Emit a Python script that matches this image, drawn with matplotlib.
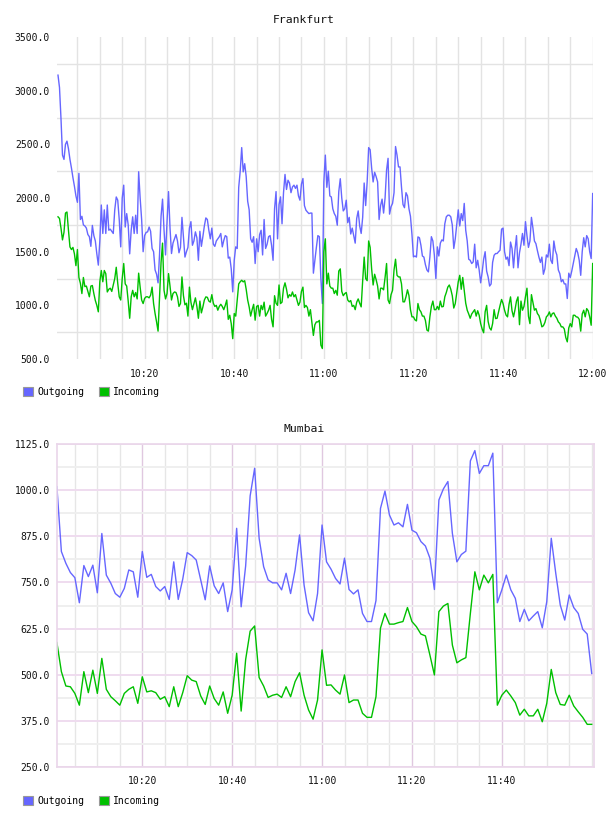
import numpy as np
import pandas as pd
import matplotlib
matplotlib.use("Agg")
import matplotlib.pyplot as plt
import matplotlib.dates as mdates
from matplotlib.ticker import MultipleLocator, FixedLocator, FormatStrFormatter
from matplotlib.patches import Patch

# Frankfurt: one sample every 20 s, starting 10:00:40
fra_start = "2013-05-01 10:00:40"
fra_out = [
    3145, 3030, 2740, 2400, 2360, 2500, 2530, 2460, 2360, 2280,
    2190, 2110, 2020, 1960, 2230, 1800, 1830, 1750, 1740, 1720,
    1660, 1640, 1550, 1745, 1650, 1600, 1480, 1375, 1600, 1935,
    1670, 1890, 1670, 1935, 1700, 1710, 1690, 1670, 1890, 2010,
    1980, 1800, 1545, 2000, 2120, 1730, 1855, 1750, 1480, 1700,
    1825, 1670, 1840, 1670, 2245, 2000, 1800, 1500, 1650, 1680,
    1685,
    1730, 1690, 1530, 1500, 1330, 1290, 1210, 1480, 1830, 1990,
    1700, 1470, 1780, 2060, 1720, 1483, 1580, 1620, 1660, 1600,
    1490, 1540, 1820, 1638, 1450, 1500, 1540, 1720, 1780, 1560,
    1600, 1685, 1630, 1420, 1690, 1550, 1640, 1740, 1815, 1800,
    1700, 1620, 1720, 1570, 1550, 1600, 1620, 1640, 1670, 1545,
    1605, 1650, 1640, 1440, 1450, 1340, 1126, 1420, 1545, 1530,
    2100, 2250, 2470, 2244, 2320, 2200, 1970, 1890, 1620, 1588,
    1640, 1390, 1620, 1500, 1660, 1700, 1470, 1800, 1530, 1570,
    1640, 1650, 1560, 1420, 1900, 2060, 1620, 1940, 2011, 1760,
    2050, 2220, 2080, 2166, 2140, 2050, 2104, 2120, 2090, 2120,
    2020, 1980, 2130, 2182, 1930, 1887, 1870, 1855, 1860, 1860,
    1300, 1420, 1540, 1650, 1640, 1250, 1017, 2150, 2400, 2100,
    2250, 2020, 2010, 1900, 1855, 1830, 1747, 2060, 2180, 2000,
    1880, 1900, 1980, 1770, 1820, 1665, 1720, 1650, 1580, 1810,
    1880, 1740, 1670, 1820, 2140, 1930, 2150, 2470, 2450, 2280,
    2150, 2240, 2200, 2150, 1800, 1930, 1990, 1860, 2000, 2260,
    2370, 1850, 1920, 1950, 2050, 2480, 2400, 2290, 2290, 2100,
    1940, 1910, 2050, 2020, 1900, 1830, 1660, 1452, 1460, 1450,
    1638, 1630, 1560, 1460, 1450, 1380, 1330, 1312, 1450, 1640,
    1600, 1467, 1250, 1545, 1460, 1580, 1610, 1600, 1760, 1825,
    1840, 1840, 1825, 1750, 1530, 1620, 1760, 1890, 1740, 1855,
    1790, 1950, 1700, 1600, 1430, 1420, 1390, 1405, 1570, 1350,
    1420, 1330, 1210, 1310, 1430, 1500, 1320, 1265, 1180, 1200,
    1400, 1467, 1483, 1483, 1500, 1514, 1710, 1720, 1500, 1430,
    1450, 1370, 1590, 1530, 1350, 1520, 1650, 1350, 1490, 1570,
    1670, 1560, 1780, 1650, 1540, 1600, 1820, 1720, 1600, 1575,
    1510, 1450, 1400, 1450, 1290, 1340, 1470, 1450, 1570, 1420,
    1390, 1600, 1510, 1470, 1330, 1296, 1220, 1240, 1200, 1200,
    1064, 1300, 1260, 1320, 1390, 1460, 1530, 1490, 1420, 1280,
    1500, 1630, 1545, 1650, 1620, 1500, 1436, 2042,
]
fra_in = [
    1825, 1810, 1720, 1610, 1680, 1860, 1870, 1700, 1545, 1520,
    1540, 1480, 1370, 1520, 1260, 1205, 1110, 1260, 1175, 1180,
    1130, 1080, 1180, 1185, 1110, 1045, 1000, 940, 1220, 1325,
    1220, 1325, 1295, 1125, 1150, 1160, 1130, 1190, 1250, 1355,
    1205, 1080, 1050, 1250, 1390, 1200, 1180, 1040, 880, 1080,
    1140, 1080, 1120, 1060, 1300, 1170, 1050, 1017, 1065, 1080,
    1080,
    1070, 1095, 1170, 1017, 924, 846, 760, 1080, 1400, 1580,
    1140, 1060, 1110, 1296, 1180, 1050, 1110, 1125, 1120, 1080,
    990, 1017, 1265, 1090, 1005, 1020, 900, 1170, 1030, 960,
    1017, 1070, 990, 880, 1040, 930, 985, 1050, 1079, 1075,
    1040, 1030, 1100, 1020, 990, 1000, 955, 990, 1010, 990,
    960, 1000, 1050, 870, 908, 830, 690, 924, 900, 1050,
    1200, 1220, 1234, 1219, 1230, 1150, 1050, 985, 900, 960,
    1010, 862, 990, 1000, 900, 1000, 960, 1030, 900, 925,
    955, 1000, 870, 800, 1090, 1020, 1000, 1190, 1017, 1030,
    1160, 1210, 1150, 1070, 1100, 1085, 1125, 1080, 1100, 1050,
    1000, 1030, 1130, 1170, 980, 1000, 980, 900, 960, 840,
    720, 820, 846, 846, 860, 630, 598, 1500, 1620, 1200,
    1300, 1180, 1160, 1160, 1110, 1140, 1095, 1320, 1340, 1130,
    1090, 1110, 1120, 1050, 1033, 1045, 990, 1000, 960, 1030,
    1060, 1020, 986, 1230, 1450, 1250, 1230, 1600, 1540, 1340,
    1190, 1290, 1240, 1180, 1060, 1160, 1160, 1145, 1260, 1390,
    1050, 1017, 1100, 1140, 1330, 1430, 1280, 1265, 1265, 1200,
    1033, 1033, 1080, 1145, 1090, 960, 893, 893, 865, 855,
    1017, 960, 940, 900, 900, 860, 770, 760, 893, 990,
    1040, 960, 960, 990, 960, 1040, 986, 990, 1080, 1120,
    1170, 1190, 1150, 1090, 975, 1017, 1120, 1220, 1280, 1150,
    1260, 1140, 1020, 955, 920, 880, 920, 940, 960, 900,
    950, 908, 830, 780, 745, 940, 1000, 850, 790, 770,
    830, 960, 877, 880, 940, 1000, 1055, 1017, 955, 910,
    893, 1010, 1079, 950, 893, 960, 1040, 1079, 820, 1040,
    955, 990, 1080, 1160, 900, 830, 1100, 1030, 955, 970,
    924, 905, 860, 800, 810, 840, 893, 908, 939, 893,
    924, 930, 900, 880, 846, 831, 800, 800, 780, 700,
    660, 790, 830, 800, 908, 908, 893, 890, 870, 760,
    920, 955, 893, 970, 950, 893, 815, 1390,
]
fra_ticks = ["10:20", "10:40", "11:00", "11:20", "11:40", "12:00"]

# Mumbai: one sample per minute, starting 10:01
mum_start = "2013-05-01 10:01:00"
mum_out = [
    1010, 834, 802, 777, 763, 695, 796, 766, 797, 722,
    883, 770, 748, 720, 710, 734, 784, 779, 710, 834,
    764, 772, 739, 727, 739, 704, 806, 704, 759, 831,
    823, 811, 757, 703, 795, 741, 720, 749, 671, 730,
    897, 684, 795, 985, 1060, 870, 793, 757, 749, 749,
    730, 775, 720, 784, 879, 743, 668, 646, 720, 906,
    806, 786, 761, 746, 816, 731, 719, 730, 666, 644,
    644, 701, 951, 998, 933, 906, 912, 901, 962, 892,
    885, 861, 849, 816, 731, 974, 1004, 1024, 883, 806,
    826, 835, 1080, 1108, 1046, 1067, 1067, 1101, 695, 730,
    770, 730, 707, 644, 677, 646, 659, 671, 627, 698,
    870, 775, 689, 648, 716, 682, 666, 623, 610, 503,
]
mum_in = [
    587, 508, 469, 467, 449, 417, 508, 451, 512, 449,
    544, 460, 440, 429, 417, 449, 460, 467, 422, 494,
    453, 456, 451, 433, 440, 413, 467, 413, 451, 497,
    485, 481, 442, 419, 469, 435, 417, 453, 395, 444,
    558, 401, 541, 618, 632, 492, 469, 438, 444, 447,
    438, 467, 440, 481, 505, 444, 404, 379, 431, 567,
    471, 472, 458, 447, 499, 424, 431, 431, 395, 384,
    384, 440, 626, 666, 637, 637, 641, 644, 682, 644,
    630, 610, 605, 553, 499, 671, 686, 693, 580, 532,
    540, 546, 666, 779, 730, 770, 749, 772, 417, 444,
    458, 442, 424, 390, 406, 388, 388, 406, 372, 422,
    514, 451, 419, 417, 444, 415, 399, 384, 365, 365,
]
mum_ticks = ["10:20", "10:40", "11:00", "11:20", "11:40"]

series_names = ["Outgoing", "Incoming"]
BLUE = "#6666ff"
GREEN = "#00c000"
MONO = "DejaVu Sans Mono"

fra_t = pd.date_range(fra_start, periods=len(fra_out), freq="20s").to_numpy()
mum_t = pd.date_range(mum_start, periods=len(mum_out), freq="1min").to_numpy()


def tick_times(start, labels):
    day = str(start)[:10]
    return [mdates.date2num(pd.Timestamp(day + " " + s)) for s in labels]


def style_axis(ax, ticks):
    ax.xaxis.set_major_locator(FixedLocator(ticks))
    ax.xaxis.set_minor_locator(mdates.MinuteLocator(byminute=range(0, 60, 5)))
    ax.xaxis.set_major_formatter(mdates.DateFormatter("%H:%M"))
    ax.yaxis.set_major_formatter(FormatStrFormatter("%.1f"))
    ax.tick_params(which="both", length=0, labelsize=7, colors="#111111")
    ax.tick_params(axis="y", pad=5)
    ax.tick_params(axis="x", pad=7)
    for lab in ax.get_xticklabels() + ax.get_yticklabels():
        lab.set_family(MONO)
    ax.set_axisbelow(True)


def add_legend(fig, y):
    handles = [Patch(facecolor=BLUE, edgecolor="#999999", lw=0.8),
               Patch(facecolor=GREEN, edgecolor="#999999", lw=0.8)]
    fig.legend(handles, series_names, loc="center left", bbox_to_anchor=(0.038, y),
               ncol=2, frameon=False, borderpad=0, borderaxespad=0,
               handlelength=1.0, handleheight=1.0, handletextpad=0.45,
               columnspacing=1.5, prop={"family": MONO, "size": 7})


fig = plt.figure(figsize=(6.08, 8.16), dpi=100)

# --- Frankfurt ---
ax1 = fig.add_axes([0.0938, 0.560, 0.8816, 0.3946])
ax1.plot(fra_t, fra_out, color=BLUE, lw=1.0)
ax1.plot(fra_t, fra_in, color=GREEN, lw=1.0)
ax1.set_ylim(500, 3500)
ax1.set_xlim(fra_t[0] - np.timedelta64(13, "s"), fra_t[-1] + np.timedelta64(5, "s"))
ax1.yaxis.set_major_locator(MultipleLocator(500))
ax1.yaxis.set_minor_locator(MultipleLocator(500, offset=250))
style_axis(ax1, tick_times(fra_start, fra_ticks))
ax1.grid(True, which="both", axis="x", color="#e3e3e3", lw=1.0)
ax1.grid(True, which="minor", axis="y", color="#e3e3e3", lw=1.0)
for s in ax1.spines.values():
    s.set_visible(False)
fig.text(0.5, 1 - 20 / 816, "Frankfurt", ha="center", va="center",
         family=MONO, fontsize=8.2, color="#111111")
add_legend(fig, 1 - 392 / 816)

# --- Mumbai ---
ax2 = fig.add_axes([0.0932, 0.0604, 0.8837, 0.3951])
ax2.plot(mum_t, mum_out, color=BLUE, lw=1.0)
ax2.plot(mum_t, mum_in, color=GREEN, lw=1.0)
ax2.set_ylim(250, 1125)
ax2.set_xlim(mum_t[0] - np.timedelta64(3, "s"), mum_t[-1] + np.timedelta64(30, "s"))
ax2.yaxis.set_major_locator(MultipleLocator(125))
ax2.yaxis.set_minor_locator(MultipleLocator(125, offset=62.5))
style_axis(ax2, tick_times(mum_start, mum_ticks))
ax2.grid(True, which="major", axis="x", color="#e0c8e0", lw=1.0)
ax2.grid(True, which="minor", axis="x", color="#e6e6e6", lw=1.0)
ax2.grid(True, which="major", axis="y", color="#efdcef", lw=1.4)
ax2.grid(True, which="minor", axis="y", color="#efefef", lw=1.4)
for s in ax2.spines.values():
    s.set_color("#ead6ea")
    s.set_linewidth(1.2)
fig.text(0.5, 1 - 429 / 816, "Mumbai", ha="center", va="center",
         family=MONO, fontsize=8.2, color="#111111")
add_legend(fig, 1 - 800.5 / 816)

fig.savefig("out.png", dpi=100)
